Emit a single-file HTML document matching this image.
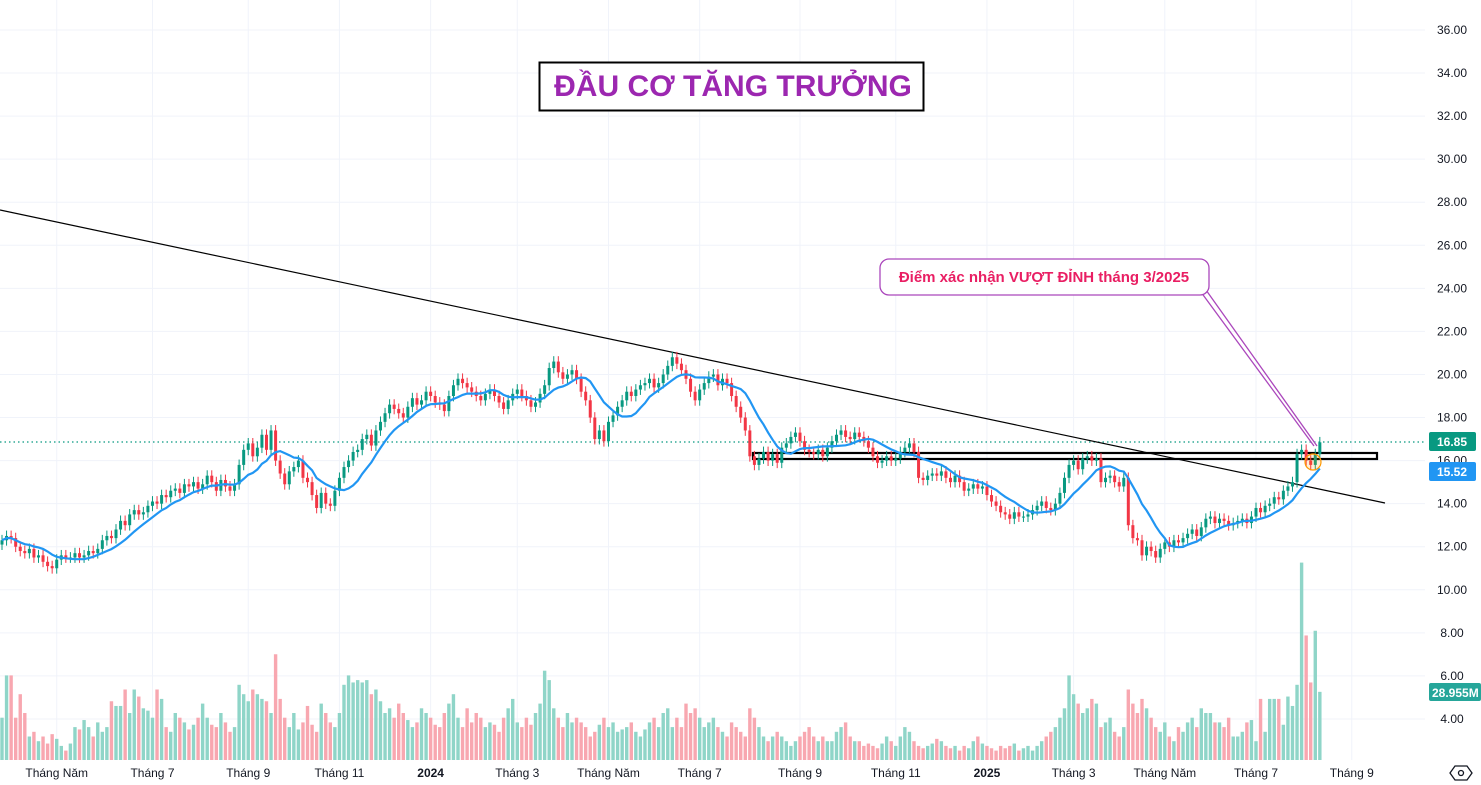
<!DOCTYPE html>
<html><head><meta charset="utf-8">
<style>
html,body{margin:0;padding:0;background:#fff;}
svg{display:block;font-family:"Liberation Sans","DejaVu Sans",sans-serif;}
</style></head>
<body>
<svg id="chart" width="1481" height="785" viewBox="0 0 1481 785">
<g id="grid"></g>
<g id="vol"></g>
<line x1="0" y1="442" x2="1425" y2="442" stroke="#089981" stroke-width="1.2" stroke-dasharray="1.5,3"/>
<line x1="0" y1="210" x2="1385" y2="503" stroke="#000" stroke-width="1.2"/>
<rect x="753" y="453" width="624" height="6" fill="none" stroke="#000" stroke-width="2.2"/>
<g id="candles"></g>
<path id="ma" fill="none" stroke="#2196f3" stroke-width="2.2"/>
<circle cx="1313" cy="462" r="8" fill="rgba(255,152,0,0.15)" stroke="#ff9800" stroke-width="1.2"/>
<line x1="1198" y1="288" x2="1314" y2="446" stroke="#ab47bc" stroke-width="1.3"/>
<line x1="1206" y1="290" x2="1317" y2="446" stroke="#ab47bc" stroke-width="1.3"/>
<rect x="880" y="259" width="329" height="36" rx="9" fill="#fff" stroke="#ab47bc" stroke-width="1.3"/>
<text x="1044" y="282" text-anchor="middle" font-size="15" font-weight="bold" fill="#e91e63">Điểm xác nhận VƯỢT ĐỈNH tháng 3/2025</text>
<rect x="539.5" y="62.5" width="384" height="48" fill="#fff" stroke="#000" stroke-width="2"/>
<text x="733" y="96" text-anchor="middle" font-size="30" font-weight="bold" fill="#9c27b0">ĐẦU CƠ TĂNG TRƯỞNG</text>
<g id="yaxis"></g>
<g id="xaxis"></g>
<rect x="1429" y="432" width="47" height="19" rx="2" fill="#089981"/>
<text x="1452" y="446" text-anchor="middle" font-size="12" font-weight="bold" fill="#fff">16.85</text>
<rect x="1429" y="462" width="47" height="19" rx="2" fill="#2196f3"/>
<text x="1452" y="476" text-anchor="middle" font-size="12" font-weight="bold" fill="#fff">15.52</text>
<rect x="1429" y="683" width="52" height="18" rx="2" fill="#26a69a"/>
<text x="1432" y="697" font-size="12" font-weight="bold" fill="#fff">28.955M</text>
<g><polygon points="1455,766 1467,766 1472,773 1467,780 1455,780 1450,773" fill="none" stroke="#131722" stroke-width="1.3"/><circle cx="1461" cy="773" r="2.5" fill="none" stroke="#131722" stroke-width="1.3"/></g>
</svg>
<script>
const closes=[12.3,12.5,12.4,12.0,11.8,11.7,11.9,11.5,11.6,11.3,
11.1,11.0,11.4,11.6,11.5,11.5,11.7,11.5,11.6,11.8,
11.7,11.9,12.3,12.5,12.4,12.8,13.2,13.0,13.5,13.7,
13.5,13.6,13.9,14.1,14.0,14.4,14.3,14.6,14.7,14.5,
14.9,14.8,15.0,14.7,14.9,15.3,15.0,14.6,15.1,14.8,
14.6,14.9,15.8,16.5,16.8,16.2,16.6,17.2,16.5,17.4,
16.0,15.4,14.9,15.5,15.7,16.0,15.2,15.0,14.4,13.8,
14.5,14.0,13.9,14.6,15.2,15.7,16.0,16.4,16.5,17.0,
17.2,16.7,17.4,17.8,18.2,18.6,18.4,18.2,18.0,18.5,
18.9,18.6,18.8,19.2,19.0,18.7,18.6,18.3,19.0,19.5,
19.8,19.6,19.4,19.2,19.0,18.8,19.1,19.3,19.0,18.7,
18.4,18.8,19.1,19.3,19.0,18.8,18.5,18.7,19.1,19.5,
20.3,20.6,20.1,19.8,20.0,20.2,19.8,19.2,18.8,18.0,
17.0,17.4,16.9,17.8,18.1,18.5,18.8,19.2,19.0,19.3,
19.5,19.6,19.8,19.4,19.6,20.0,20.4,20.8,20.5,20.2,
19.8,19.2,18.8,19.3,19.6,19.9,20.0,19.5,19.8,19.6,
19.0,18.5,18.0,17.4,16.2,15.8,16.1,16.4,16.0,16.3,
15.9,16.6,16.8,17.1,17.3,16.9,16.5,16.4,16.3,16.5,
16.2,16.6,16.9,17.2,17.4,17.1,17.0,17.3,17.1,16.9,
16.6,16.2,15.9,16.0,16.2,16.0,16.1,16.4,16.6,16.8,
16.4,15.2,15.1,15.3,15.4,15.3,15.5,15.2,15.0,15.3,
15.0,14.6,14.7,14.9,14.7,14.8,14.4,14.1,13.9,13.6,
13.5,13.3,13.6,13.4,13.4,13.5,13.7,13.9,14.1,13.8,
13.7,14.0,14.5,15.2,15.8,16.0,15.6,16.1,16.2,16.0,
16.1,15.0,15.2,15.3,15.0,14.8,15.2,13.0,12.4,12.3,
11.6,12.0,11.8,11.5,11.9,12.2,12.0,12.3,12.2,12.4,
12.6,12.8,12.5,12.9,13.3,13.4,13.1,13.3,13.2,13.0,
13.1,13.2,13.3,13.1,13.4,13.8,13.6,13.9,14.0,14.3,
14.2,14.6,14.8,15.0,16.3,16.5,16.0,15.8,16.3,16.85];
const volumes=[18,36,36,18,28,20,10,12,8,10,
7,11,9,6,4,7,14,13,17,14,
10,16,12,14,25,23,23,30,20,30,
27,22,21,18,30,26,14,12,20,18,
16,13,15,18,24,18,15,14,20,16,
12,14,32,28,25,30,28,26,25,20,
45,26,18,14,20,13,16,23,15,12,
24,20,16,14,20,32,36,33,34,33,
34,28,30,25,20,22,18,24,20,17,
14,16,22,20,18,15,14,20,24,28,
18,14,22,16,20,18,14,16,15,12,
18,22,26,16,14,18,15,20,24,38,
34,22,18,14,20,16,18,16,14,10,
12,15,18,14,16,12,13,14,16,12,
10,13,16,18,14,20,22,14,18,14,
24,20,22,18,14,16,18,14,12,10,
16,14,12,10,22,18,14,10,8,10,
12,10,8,6,8,10,12,14,10,8,
10,8,8,12,14,16,10,8,8,6,
7,6,5,7,10,8,6,10,14,12,
8,6,5,6,7,9,8,6,5,6,
4,6,5,8,10,7,6,5,4,6,
5,6,7,4,5,6,4,6,8,10,
12,14,18,22,36,28,24,20,22,26,
24,14,16,18,12,10,14,30,24,20,
26,22,18,14,12,16,10,8,14,12,
16,18,14,22,20,20,16,16,14,18,
10,10,12,16,17,8,26,12,26,26,
26,15,27,23,32,84,53,33,55,29];
const firstOpen=12.1;
const priceTicks=["36.00","34.00","32.00","30.00","28.00","26.00","24.00","22.00","20.00","18.00","16.00","14.00","12.00","10.00","8.00","6.00","4.00"];
const timeLabels=["Tháng Năm","Tháng 7","Tháng 9","Tháng 11","2024","Tháng 3","Tháng Năm","Tháng 7","Tháng 9","Tháng 11","2025","Tháng 3","Tháng Năm","Tháng 7","Tháng 9"];
const timeIndex=[12,33,54,74,94,113,133,153,175,196,216,235,255,275,296];

const NS="http://www.w3.org/2000/svg";
const X0=2, STEP=4.56;
function xOf(i){return X0+i*STEP;}
function yOf(p){return 30+(36-p)*21.53;}
function vY(v){return 760-v*2.35;}
function mk(tag,attrs,parent){const e=document.createElementNS(NS,tag);for(const k in attrs)e.setAttribute(k,attrs[k]);parent.appendChild(e);return e;}

const grid=document.getElementById('grid'),yaxis=document.getElementById('yaxis'),xaxis=document.getElementById('xaxis');
priceTicks.forEach(t=>{
  const y=yOf(parseFloat(t));
  const gl=mk('line',{x1:0,x2:1425,y1:y,y2:y,stroke:'#f0f3fa','stroke-width':1},grid);
  
  
  const tx=mk('text',{x:1452,y:y+4,'text-anchor':'middle','font-size':12,fill:'#131722'},yaxis);
  tx.textContent=t;
  
  
});
timeLabels.forEach((t,k)=>{
  const x=xOf(timeIndex[k]);
  const gl=mk('line',{x1:x,x2:x,y1:0,y2:760,stroke:'#f0f3fa','stroke-width':1},grid);
  
  
  const bold=(t==='2024'||t==='2025');
  const tx=mk('text',{x:x,y:777,'text-anchor':'middle','font-size':12,fill:'#131722','font-weight':bold?'bold':'normal'},xaxis);
  tx.textContent=t;
  
  
});

const cg=document.getElementById('candles'),vg=document.getElementById('vol');
closes.forEach((c,i)=>{
  const o=i===0?firstOpen:closes[i-1];
  const up=c>=o;
  const col=up?'#089981':'#f23645';
  const x=xOf(i);
  const hi=Math.max(o,c)+0.25,lo=Math.min(o,c)-0.25;
  const w=mk('line',{x1:x,x2:x,y1:yOf(hi),y2:yOf(lo),stroke:col,'stroke-width':1},cg);
  
  
  const top=yOf(Math.max(o,c)),bot=yOf(Math.min(o,c));
  const b=mk('rect',{x:x-1.5,y:top,width:3,height:Math.max(1,bot-top),fill:col},cg);
  
  
  const v=volumes[i];
  const vb=mk('rect',{x:x-1.7,y:vY(v),width:3.4,height:760-vY(v),fill:up?'#8fd5c8':'#f8a7b0'},vg);
  
  
});
let d='';
for(let i=0;i<closes.length;i++){
  let s=0,n=0;for(let j=Math.max(0,i-9);j<=i;j++){s+=closes[j];n++;}
  d+=(i===0?'M':'L')+xOf(i).toFixed(1)+','+yOf(s/n).toFixed(1);
}
document.getElementById('ma').setAttribute('d',d);
</script>
</body></html>
